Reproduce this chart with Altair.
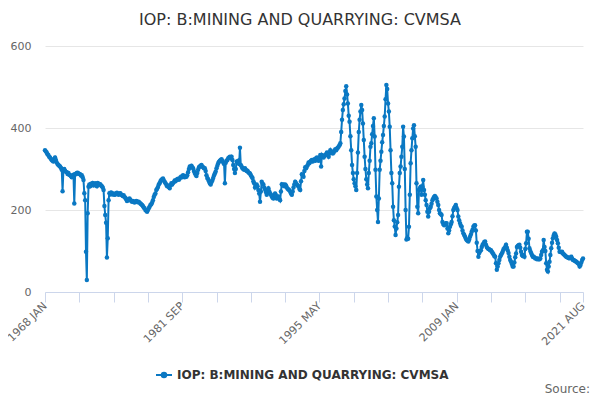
import altair as alt
import pandas as pd

TITLE = "IOP: B:MINING AND QUARRYING: CVMSA"
SERIES = "IOP: B:MINING AND QUARRYING: CVMSA"
SOURCE = "Source:"

# monthly values, 1968 JAN .. 2021 AUG
v1968_1977 = [
    346, 343, 340, 336, 334, 330, 328, 325, 322, 320, 318, 323,
    328, 322, 316, 312, 310, 308, 306, 303, 298, 246, 296, 300,
    296, 293, 292, 288, 290, 286, 285, 283, 280, 284, 286, 216,
    288, 287, 290, 291, 289, 288, 287, 284, 285, 280, 273, 241,
    224, 98, 29, 192, 257, 262, 258, 264, 262, 266, 260, 263,
    265, 262, 258, 266, 264, 262, 263, 260, 258, 255, 249, 210,
    188, 169, 84, 131, 224, 241, 238, 243, 240, 238, 240, 237,
    238, 240, 242, 239, 237, 240, 241, 238, 236, 234, 236, 232,
    230, 226, 222, 224, 226, 228, 225, 222, 220, 222, 220, 218,
    220, 222, 221, 219, 220, 218, 216, 214, 212, 210, 206, 204,
]
v1978_1987 = [
    200, 198, 196, 200, 204, 208, 212, 214, 218, 224, 232, 237,
    240, 249, 252, 256, 262, 265, 270, 273, 275, 277, 272, 269,
    265, 262, 258, 260, 256, 253, 260, 265, 262, 266, 268, 272,
    270, 273, 275, 276, 274, 277, 280, 282, 280, 285, 283, 280,
    282, 281, 285, 292, 300, 306, 304, 308, 304, 302, 295, 290,
    286, 283, 290, 298, 304, 306, 308, 310, 306, 304, 302, 302,
    295, 285, 278, 275, 270, 265, 262, 268, 272, 278, 284, 289,
    294, 302, 308, 314, 318, 320, 322, 324, 320, 316, 312, 265,
    315, 320, 322, 326, 328, 330, 326, 330, 322, 310, 300, 290,
    300, 318, 315, 320, 312, 352, 310, 306, 302, 300, 298, 302,
]
v1988_1997 = [
    298, 295, 296, 292, 290, 289, 285, 281, 278, 270, 265, 255,
    260, 262, 258, 249, 240, 220, 245, 269, 264, 262, 255, 250,
    244, 237, 248, 253, 246, 240, 238, 233, 230, 228, 235, 240,
    236, 228, 230, 233, 228, 224, 245, 263, 260, 262, 258, 262,
    260, 255, 252, 250, 248, 245, 240, 237, 245, 255, 262, 269,
    265, 262, 260, 258, 252, 249, 270, 287, 284, 281, 295, 304,
    302, 306, 310, 316, 314, 318, 320, 322, 318, 322, 324, 320,
    326, 328, 322, 320, 328, 334, 306, 334, 330, 328, 332, 334,
    336, 340, 335, 330, 338, 346, 340, 342, 338, 340, 345, 348,
    346, 350, 352, 355, 358, 363, 390, 420, 444, 458, 472, 490,
]
v1998_2007 = [
    502, 482, 460, 430, 415, 380, 346, 310, 290, 275, 265, 258,
    249, 290, 340, 390, 420, 440, 456, 444, 411, 371, 330, 300,
    275, 262, 253, 290, 320, 354, 363, 385, 405, 424, 379, 298,
    233, 200, 171, 228, 298, 320, 342, 365, 383, 405, 428, 470,
    505, 495, 460, 440, 403, 346, 290, 265, 208, 175, 160, 139,
    155, 170, 188, 257, 290, 306, 330, 354, 403, 379, 300, 200,
    128, 132, 130, 159, 237, 314, 346, 375, 399, 407, 380, 354,
    265, 208, 192, 249, 253, 257, 237, 257, 273, 249, 237, 224,
    212, 196, 184, 196, 204, 208, 215, 224, 228, 232, 234, 231,
    228, 220, 212, 200, 192, 190, 188, 171, 166, 163, 165, 168,
]
v2008_2021 = [
    168, 155, 143, 150, 159, 165, 171, 185, 200, 205, 208, 212,
    205, 200, 184, 175, 168, 162, 159, 150, 143, 139, 135, 130,
    127, 125, 123, 128, 135, 140, 147, 152, 159, 162, 163, 150,
    120, 100, 86, 95, 100, 102, 110, 115, 118, 122, 123, 115,
    110, 107, 105, 104, 102, 102, 98, 95, 92, 88, 86, 70,
    54, 62, 70, 78, 86, 90, 94, 98, 104, 107, 110, 115,
    108, 102, 95, 86, 78, 74, 68, 62, 62, 72, 85, 94,
    110, 112, 114, 115, 108, 98, 90, 88, 90, 86, 105, 119,
    147, 147, 130, 107, 100, 95, 90, 86, 86, 84, 82, 82,
    80, 82, 80, 80, 82, 90, 98, 102, 127, 110, 100, 70,
    54, 50, 62, 74, 90, 107, 120, 131, 138, 143, 140, 135,
    127, 119, 108, 98, 98, 97, 98, 94, 92, 90, 88, 86,
    85, 84, 83, 82, 84, 86, 82, 78, 78, 76, 75, 74,
    72, 70, 68, 62, 66, 72, 78, 82,
]

tick_months = [0, 41, 82, 123, 164, 205, 246, 287, 328, 369, 410, 451, 492, 533, 574, 615, 643]
label_months = [0, 164, 328, 492, 643]
label_texts = ["1968 JAN", "1981 SEP", "1995 MAY", "2009 JAN", "2021 AUG"]
y_ticks = [0, 200, 400, 600]

values = v1968_1977 + v1978_1987 + v1988_1997 + v1998_2007 + v2008_2021
df = pd.DataFrame({"m": list(range(len(values))), "v": values, "series": SERIES})

BLUE = "#0a78c3"
FONT = "DejaVu Sans"

expr = " : ".join(
    f"datum.value == {m} ? '{t}'" for m, t in zip(label_months, label_texts)
) + " : ''"

x = alt.X(
    "m:Q",
    scale=alt.Scale(domain=[0, len(values) - 1], nice=False, zero=False),
    axis=alt.Axis(
        values=tick_months, labelExpr=expr, title=None, grid=False,
        domainColor="#ccd6eb", tickColor="#ccd6eb", tickSize=10,
        labelAngle=315, labelAlign="right", labelBaseline="middle",
        labelColor="#666666", labelFontSize=11, labelFont=FONT,
        labelPadding=2, labelOverlap=False, labelBound=False, labelFlush=False,
    ),
)
y = alt.Y(
    "v:Q",
    scale=alt.Scale(domain=[0, 600], nice=False),
    axis=alt.Axis(
        values=y_ticks, title=None, domain=False, ticks=False, tickSize=0,
        gridColor="#e6e6e6", labelColor="#666666", labelFontSize=11,
        labelFont=FONT, labelPadding=14,
    ),
)

color = alt.Color(
    "series:N",
    scale=alt.Scale(range=[BLUE]),
    legend=alt.Legend(
        title=None, orient="none", legendX=110, legendY=320,
        symbolType="M-1,0H1M-0.28,0A0.28,0.28,0,1,1,0.28,0A0.28,0.28,0,1,1,-0.28,0Z",
        symbolSize=256, symbolStrokeWidth=2, symbolFillColor=BLUE,
        symbolStrokeColor=BLUE,
        labelFont=FONT, labelFontSize=12, labelFontWeight="bold",
        labelColor="#333333", labelLimit=400,
    ),
)

base = alt.Chart(df)
line = base.mark_line(strokeWidth=2).encode(x=x, y=y, color=color)
pts = base.mark_circle(size=20, opacity=1).encode(
    x=x, y=y, color=alt.Color("series:N", scale=alt.Scale(range=[BLUE]), legend=None)
)
src = alt.Chart(pd.DataFrame({"t": [SOURCE]})).mark_text(
    align="right", baseline="middle", font=FONT, fontSize=12, color="#666666"
).encode(x=alt.value(545), y=alt.value(343), text="t:N")

chart = alt.layer(line, pts, src).properties(
    width=538, height=246,
    title=alt.TitleParams(
        TITLE, font=FONT, fontSize=16, fontWeight="normal", color="#333333",
        anchor="middle", dx=-14, offset=12,
    ),
    autosize=alt.AutoSizeParams(type="none"),
    padding={"left": 37, "top": 38, "right": 9, "bottom": 108},
).configure_view(stroke=None)

chart.save("out.html", embed_options={"renderer": "svg", "actions": False})
